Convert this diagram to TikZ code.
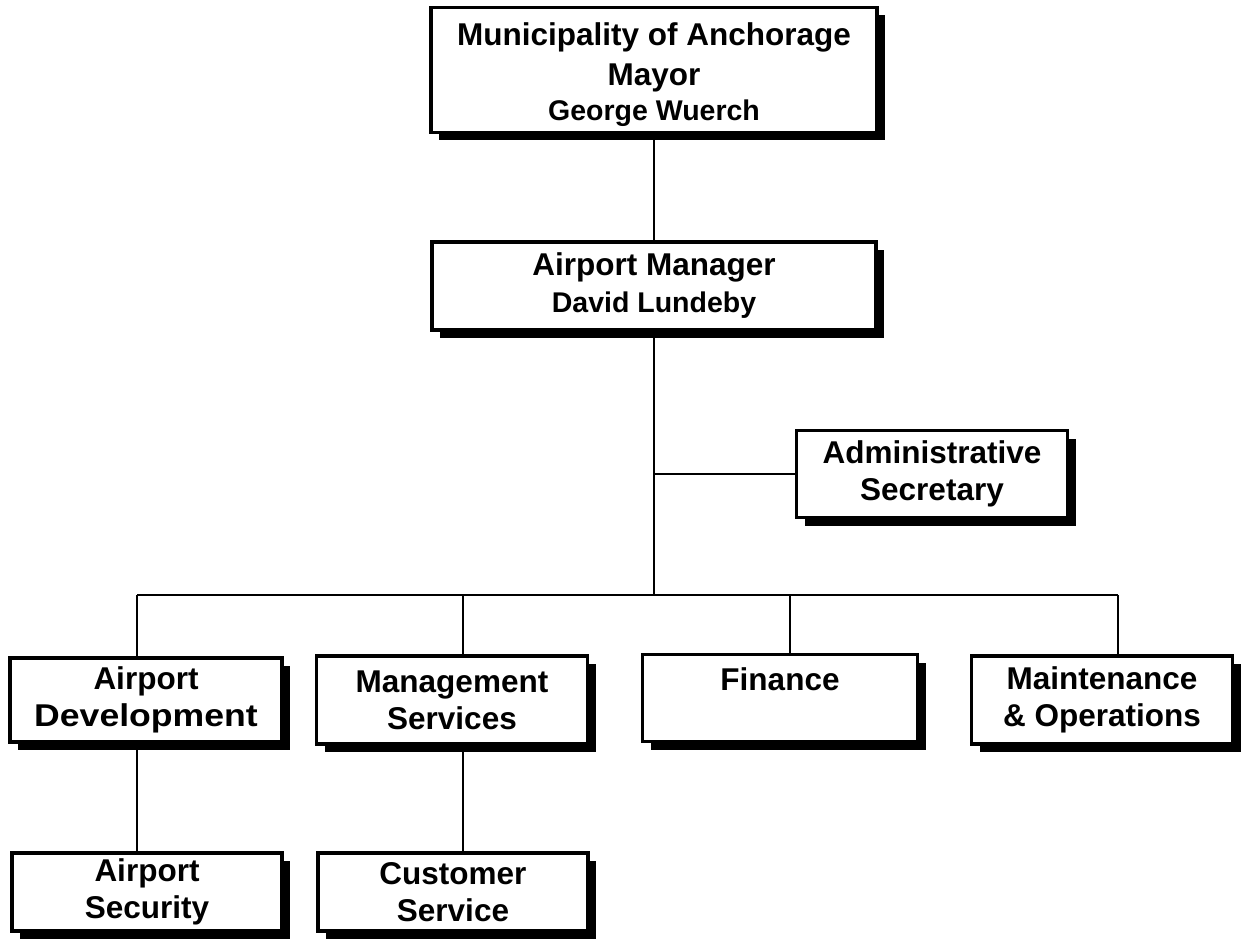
\documentclass[tikz,border=0pt]{standalone}
\usepackage{fontspec}
\setmainfont{Liberation Sans}
\usetikzlibrary{shadows}

\tikzset{
  unit/.style={draw, line width=3.2pt, fill=white, inner sep=0pt, align=center,
    font=\bfseries\fontsize{31.5}{37}\selectfont,
    drop shadow={shadow xshift=8pt, shadow yshift=-8pt, fill=black, opacity=1}},
  link/.style={line width=1.4pt}
}
\newcommand{\who}[1]{{\fontsize{28.5}{34}\selectfont #1}}

\begin{document}
\begin{tikzpicture}[x=1pt, y=-1pt]
		\useasboundingbox (0,0) rectangle (1242,944);

		% top of the chart
		\node[unit, minimum width=446pt, minimum height=125pt] (mayor) at (654,70)
			{\rule{0pt}{33pt}Municipality of Anchorage\\[3pt]Mayor\\[-2pt]\who{George Wuerch}};
		\node[unit, minimum width=444pt, minimum height=88pt] (manager) at (654,286)
			{Airport Manager\\\who{David Lundeby}};
		\node[unit, minimum width=271pt, minimum height=87pt] (admin) at (932,474)
			{Administrative\\Secretary};

		% divisions
		\node[unit, minimum width=272pt, minimum height=84pt] (adev) at (146,700)
			{Airport\\\scalebox{1.13}[1]{Development}};
		\node[unit, minimum width=271pt, minimum height=88pt] (msvc) at (452,700)
			{Management\\Services};
		\node[unit, minimum width=275pt, minimum height=87pt] (fin) at (780,698)
			{Finance\\\mbox{}};
		\node[unit, minimum width=261pt, minimum height=88pt] (mops) at (1102,700)
			{Maintenance\\\& Operations};

		% sections
		\node[unit, minimum width=270pt, minimum height=78pt] (asec) at (147,892)
			{Airport\\Security};
		\node[unit, minimum width=270pt, minimum height=78pt] (csvc) at (453,892)
			{Customer\\Service};

		\coordinate (bus) at (654,595);
		\coordinate (b1) at (137,595);
		\coordinate (b2) at (463,595);
		\coordinate (b3) at (790,595);
		\coordinate (b4) at (1118,595);

		\draw[link]
			(mayor) -- (manager)
			(manager.south) -- (bus)
			(manager.south |- admin.west) -- (admin.west)
			(b1) -- (b4)
			(b1) -- (b1 |- adev.north)
			(b2) -- (b2 |- msvc.north)
			(b3) -- (b3 |- fin.north)
			(b4) -- (b4 |- mops.north)
			(b1 |- adev.south) -- (b1 |- asec.north)
			(b2 |- msvc.south) -- (b2 |- csvc.north)
		;
\end{tikzpicture}
\end{document}
